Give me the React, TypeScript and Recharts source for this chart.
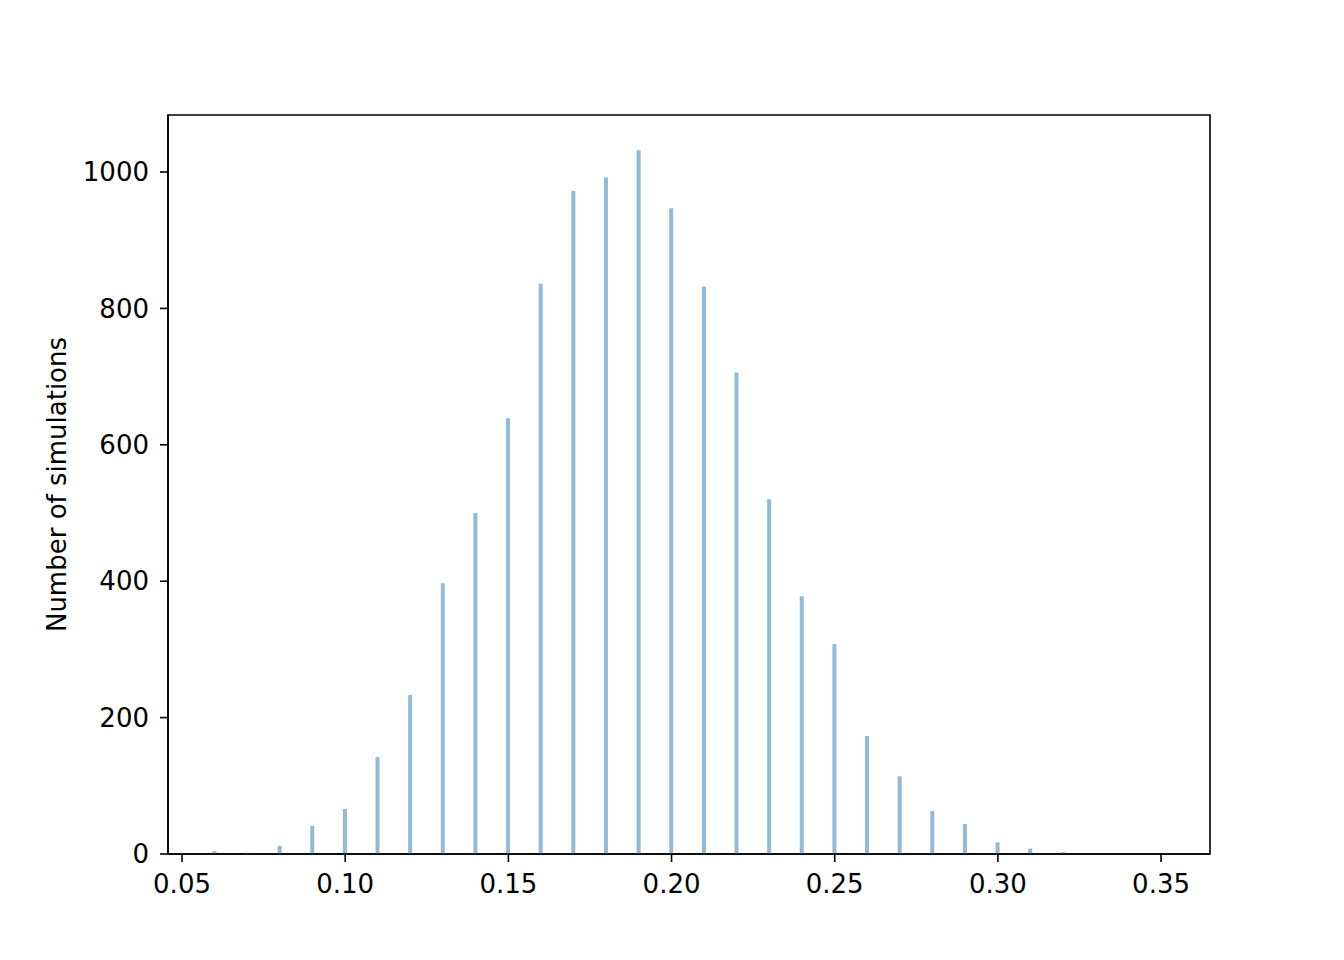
import React from 'react';
import { BarChart, Bar, XAxis, YAxis, ReferenceArea } from 'recharts';

// proportion bins and their simulation counts
const bins = [0.06, 0.07, 0.08, 0.09, 0.10, 0.11, 0.12, 0.13, 0.14, 0.15, 0.16, 0.17, 0.18, 0.19,
  0.20, 0.21, 0.22, 0.23, 0.24, 0.25, 0.26, 0.27, 0.28, 0.29, 0.30, 0.31, 0.32];
const counts = [4, 2, 12, 41, 66, 142, 233, 397, 500, 639, 836, 972, 992, 1032,
  947, 832, 706, 520, 378, 308, 173, 114, 63, 44, 17, 8, 3];

const xTicks = [0.05, 0.10, 0.15, 0.20, 0.25, 0.30, 0.35];
const yTicks = [0, 200, 400, 600, 800, 1000];

const xDomain: [number, number] = [0.0457, 0.365];
const yDomain: [number, number] = [0, 1083.6];

const data = bins.map((b, i) => ({ x: b, count: counts[i] }));

const FONT = '"DejaVu Sans", sans-serif';
const font = { fontSize: 26, fill: '#000', fontFamily: FONT };

const YLabel = (props: any) => {
  const vb = props.viewBox;
  const cx = vb.x - 11;
  const cy = vb.y + vb.height / 2;
  return (
    <text
      x={cx}
      y={cy}
      transform={`rotate(-90, ${cx}, ${cy})`}
      textAnchor="middle"
      dominantBaseline="central"
      fontSize={26}
      fontFamily={FONT}
      fill="#000"
    >
      Number of simulations
    </text>
  );
};

const App: React.FC = () => {
  return (
    <div style={{ position: 'absolute', left: 0, top: 0, width: 1344, height: 960, background: '#fff' }}>
      <BarChart
        width={1344}
        height={960}
        data={data}
        margin={{ top: 115, right: 134, bottom: 56, left: 68 }}
        barSize={4}
      >
        <XAxis
          dataKey="x"
          type="number"
          domain={xDomain}
          ticks={xTicks}
          tickFormatter={(v: number) => v.toFixed(2)}
          allowDataOverflow
          height={50}
          stroke="#000"
          strokeWidth={1.6}
          tickSize={8}
          tickMargin={13}
          tick={font}
        />
        <YAxis
          type="number"
          domain={yDomain}
          ticks={yTicks}
          allowDataOverflow
          width={100}
          stroke="#000"
          strokeWidth={1.6}
          tickSize={8}
          tickMargin={11}
          tick={font}
          label={{ content: <YLabel /> }}
        />
        <Bar dataKey="count" fill="#8fbbd9" isAnimationActive={false} />
        {/* axes frame */}
        <ReferenceArea
          x1={xDomain[0]}
          x2={xDomain[1]}
          y1={yDomain[0]}
          y2={yDomain[1]}
          fill="none"
          fillOpacity={0}
          stroke="#000"
          strokeWidth={1.6}
          strokeOpacity={1}
          ifOverflow="extendDomain"
        />
      </BarChart>
    </div>
  );
};

export default App;
